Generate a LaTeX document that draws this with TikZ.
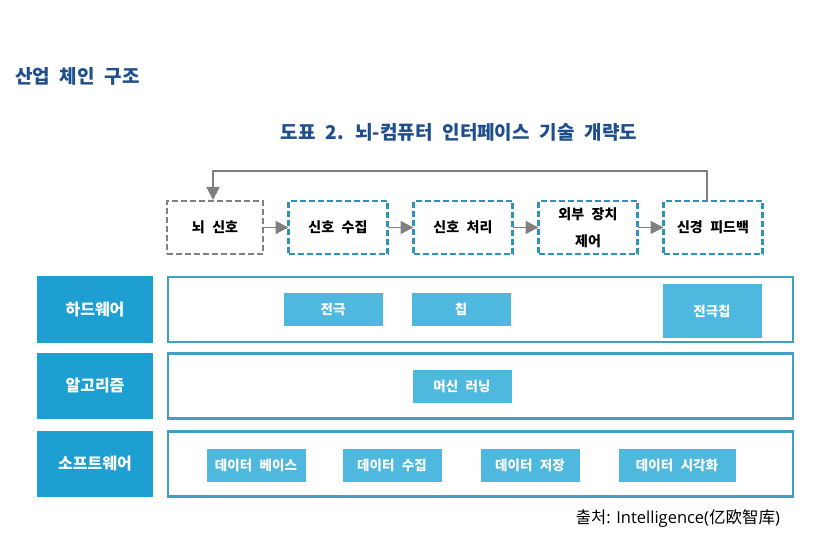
\documentclass[tikz,border=0pt]{standalone}
\usepackage{fontspec}
\setmainfont{Open Sans}
\newfontfamily\krf{Noto Sans CJK KR}
\usetikzlibrary{arrows.meta}
\definecolor{navy}{HTML}{1F4E8C}
\definecolor{teal}{HTML}{2E93B5}
\definecolor{grayc}{HTML}{808080}
\definecolor{bluebox}{HTML}{1E9FD2}
\definecolor{lightbox}{HTML}{4FB8DF}
\definecolor{frame}{HTML}{3FA0C4}
\newcommand{\wsA}{\spaceskip 7.5pt\relax}
\newcommand{\wsB}{\spaceskip 10pt\relax}
\tikzset{
 every node/.style={inner sep=0pt,outer sep=0pt,align=center},
 dashbase/.style={draw=teal,line width=2.2pt,dash pattern=on 6pt off 3pt,minimum height=53pt,fill=white,font=\krf\fontsize{14}{27}\selectfont\bfseries,execute at begin node=\wsA,text=black},
 graybox/.style={dashbase,draw=grayc,line width=2.6pt},
 cat/.style={fill=bluebox,text=white,minimum width=116pt,minimum height=66pt,font=\krf\fontsize{16}{18}\selectfont\bfseries},
 band/.style={draw=frame,line width=2.4pt,minimum width=625pt,fill=white},
 item/.style={fill=lightbox,text=white,font=\krf\fontsize{13.5}{16}\selectfont\bfseries,execute at begin node=\wsA,minimum height=33pt},
 heading/.style={text=navy,font=\krf\fontsize{19}{22}\selectfont\bfseries,execute at begin node=\wsB},
 flow/.style={draw=grayc,line width=1.6pt,-{Triangle[length=13pt,width=13pt]}},
}
\begin{document}
\begin{tikzpicture}[x=1pt,y=-1pt]
\useasboundingbox (0,0) rectangle (835,537);
\node[anchor=west,heading] (t1) at (15,76) {산업 체인 구조};
\node[heading] (t2) at (459,132) {도표 2. 뇌-컴퓨터 인터페이스 기술 개략도};

\node[graybox,minimum width=96pt] (a) at (215,227.5) {뇌 신호};
\node[dashbase,minimum width=99pt] (b) at (338,227.5) {신호 수집};
\node[dashbase,minimum width=99pt] (c) at (463,227.5) {신호 처리};
\node[dashbase,minimum width=99pt] (d) at (588,227.5) {외부 장치\\제어};
\node[dashbase,minimum width=99pt] (e) at (713,227.5) {신경 피드백};

\draw[flow] (a.east) -- (b.west);
\draw[flow] (b.east) -- (c.west);
\draw[flow] (c.east) -- (d.west);
\draw[flow] (d.east) -- (e.west);
\coordinate (ec) at (707,201);
\coordinate (at) at (213,200);
\draw[flow,line width=2pt] (ec) -- (707,171) -- (213,171) -- (at);

\node[cat] (h) at (95,309.5) {\raisebox{1pt}{하드웨어}};
\node[cat] (g) at (95,385.5) {\raisebox{1pt}{알고리즘}};
\node[cat] (s) at (95,464) {\raisebox{3pt}{소프트웨어}};

\node[band,minimum height=65pt] (b1) at (480.5,309.5) {};
\node[band,minimum height=65pt] (b2) at (480.5,386) {};
\node[band,minimum height=65pt] (b3) at (480.5,464) {};

\node[item,minimum width=99pt] (i1) at (333,309.5) {전극};
\node[item,minimum width=99pt] (i2) at (461,309.5) {칩};
\node[item,minimum width=99pt,minimum height=54pt] (i3) at (712,311) {전극칩};
\node[item,minimum width=99pt] (i4) at (462,386) {머신 러닝};
\node[item,minimum width=99pt] (i5) at (256,465) {데이터 베이스};
\node[item,minimum width=99pt] (i6) at (392,465) {데이터 수집};
\node[item,minimum width=99pt] (i7) at (530,465) {데이터 저장};
\node[item,minimum width=117pt] (i8) at (677,465) {데이터 시각화};

\node[anchor=east,text=black,font=\fontsize{16.5}{18}\selectfont] (src) at (780,519) {{\krf 출처}: Intelligence({\krf 亿欧智库})};
\end{tikzpicture}
\end{document}
